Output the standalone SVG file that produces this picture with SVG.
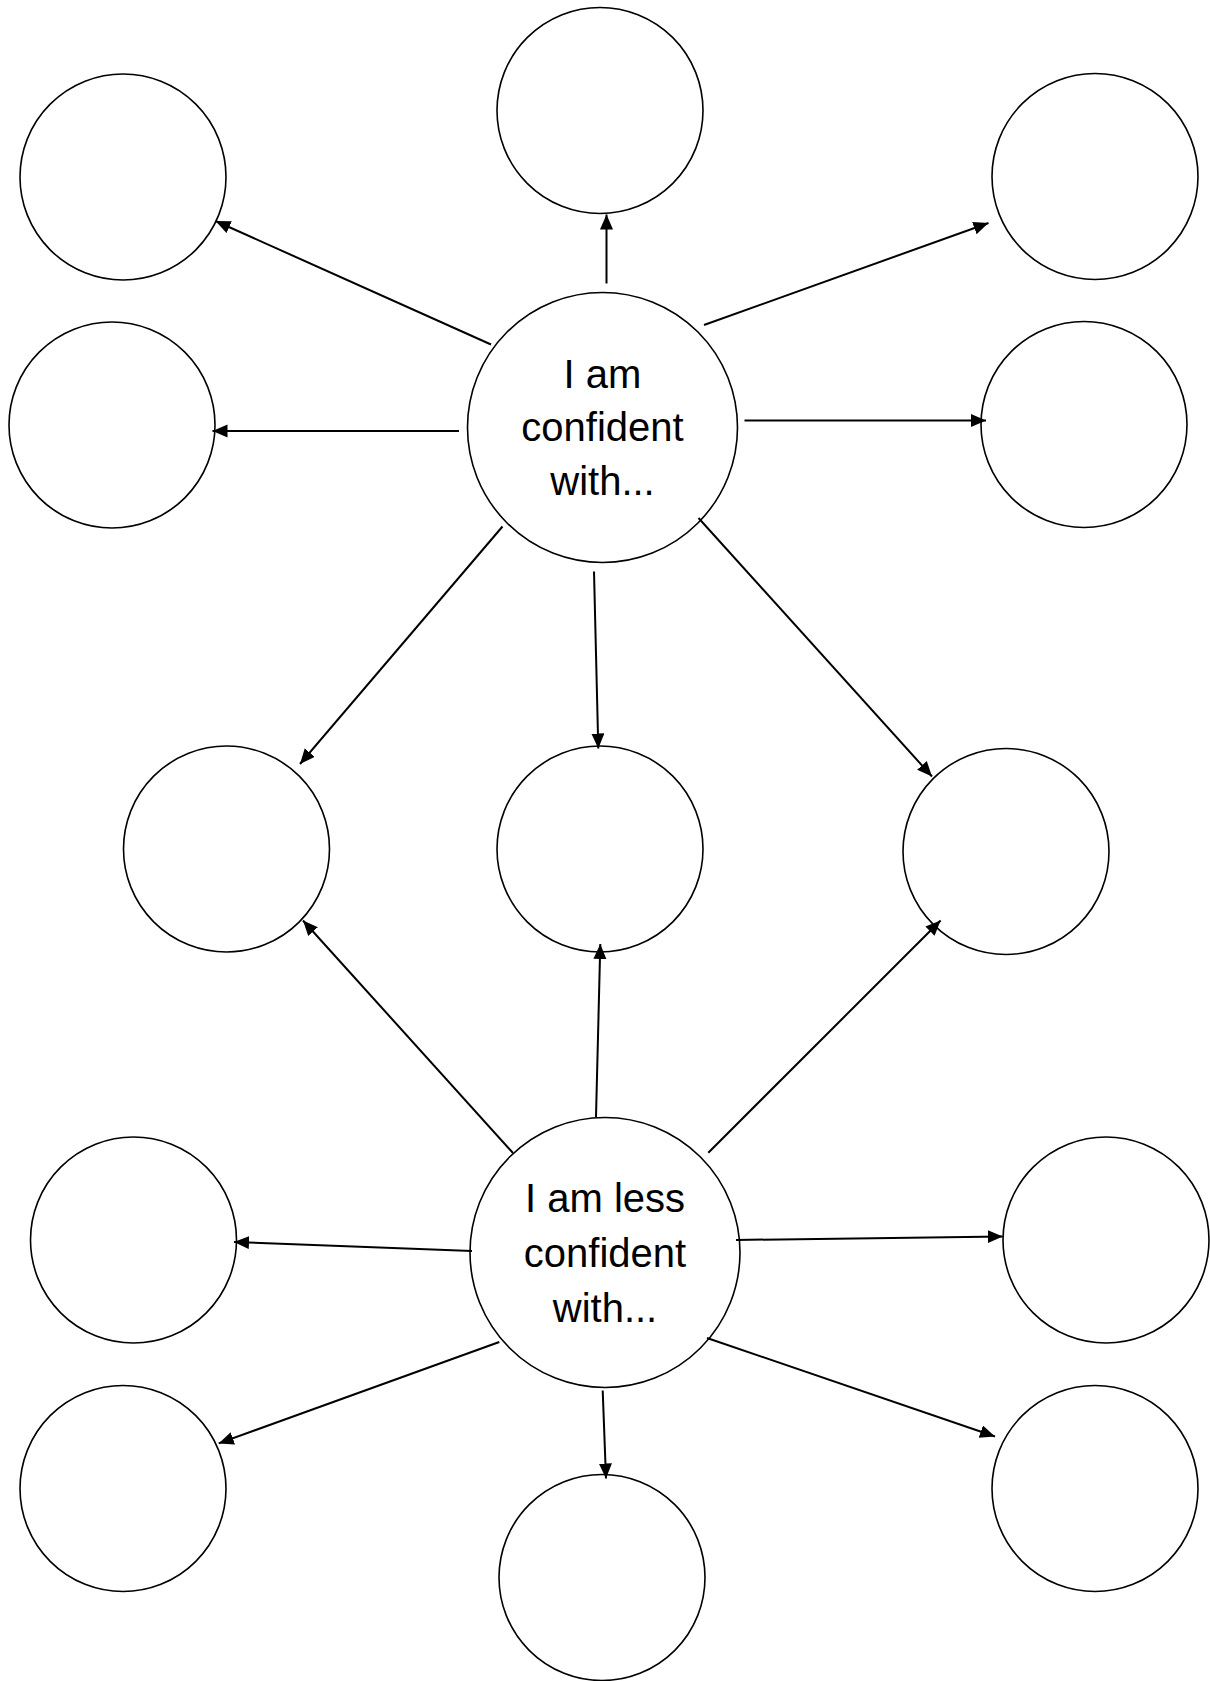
<svg xmlns="http://www.w3.org/2000/svg" width="1210" height="1681" viewBox="0 0 1210 1681">
<style>
.node circle{fill:#fff;stroke:#000;stroke-width:1.6}
.lbl{font-family:"Liberation Sans",Arial,sans-serif;font-size:40px;fill:#000;text-anchor:middle}
#connectors line{stroke:#000;stroke-width:2;marker-end:url(#arrow)}
</style>
<defs>
<marker id="arrow" markerUnits="userSpaceOnUse" markerWidth="16" markerHeight="14" refX="15" refY="6.5" orient="auto">
<path d="M0,0 L15,6.5 L0,13 z" fill="#000"/>
</marker>
</defs>
<rect width="1210" height="1681" fill="#fff"/>
<g id="n-tl" class="node"><circle cx="123" cy="177" r="103"/></g>
<g id="n-tc" class="node"><circle cx="600" cy="110.5" r="103"/></g>
<g id="n-tr" class="node"><circle cx="1095" cy="176.5" r="103"/></g>
<g id="n-l2" class="node"><circle cx="112" cy="425" r="103"/></g>
<g id="n-r2" class="node"><circle cx="1084" cy="424.5" r="103"/></g>
<g id="n-confident" class="node"><circle cx="602.5" cy="427.5" r="135"/>
<text class="lbl" x="602.5" y="388">I am</text>
<text class="lbl" x="602.5" y="441">confident</text>
<text class="lbl" x="602.5" y="495">with...</text></g>
<g id="n-ml" class="node"><circle cx="226.5" cy="849" r="103"/></g>
<g id="n-mc" class="node"><circle cx="600" cy="849" r="103"/></g>
<g id="n-mr" class="node"><circle cx="1006" cy="851.5" r="103"/></g>
<g id="n-bl1" class="node"><circle cx="133.5" cy="1240" r="103"/></g>
<g id="n-less" class="node"><circle cx="605" cy="1252.5" r="135"/>
<text class="lbl" x="605" y="1212">I am less</text>
<text class="lbl" x="605" y="1267">confident</text>
<text class="lbl" x="605" y="1322">with...</text></g>
<g id="n-br1" class="node"><circle cx="1106" cy="1240" r="103"/></g>
<g id="n-bl2" class="node"><circle cx="123" cy="1488.5" r="103"/></g>
<g id="n-bc2" class="node"><circle cx="602" cy="1577.5" r="103"/></g>
<g id="n-br2" class="node"><circle cx="1095" cy="1488.5" r="103"/></g>
<g id="connectors">
<line x1="491" y1="344.5" x2="215.5" y2="221"/>
<line x1="459" y1="431" x2="212.5" y2="431"/>
<line x1="606.5" y1="283.5" x2="606.5" y2="214.5"/>
<line x1="704" y1="325" x2="988.5" y2="223"/>
<line x1="744.5" y1="420.5" x2="986" y2="420.5"/>
<line x1="502.5" y1="526.5" x2="300" y2="764"/>
<line x1="594" y1="571.5" x2="598.3" y2="748.5"/>
<line x1="698.5" y1="518" x2="932" y2="776.5"/>
<line x1="513" y1="1153" x2="303" y2="920.5"/>
<line x1="596" y1="1117" x2="600.3" y2="944"/>
<line x1="708.3" y1="1152.7" x2="940.6" y2="920.5"/>
<line x1="472" y1="1251" x2="234" y2="1242"/>
<line x1="736" y1="1240" x2="1002.7" y2="1236.4"/>
<line x1="499.3" y1="1342" x2="218.7" y2="1443.4"/>
<line x1="602.7" y1="1390.5" x2="606" y2="1478.5"/>
<line x1="707" y1="1338" x2="995" y2="1436.5"/>
</g>
</svg>
